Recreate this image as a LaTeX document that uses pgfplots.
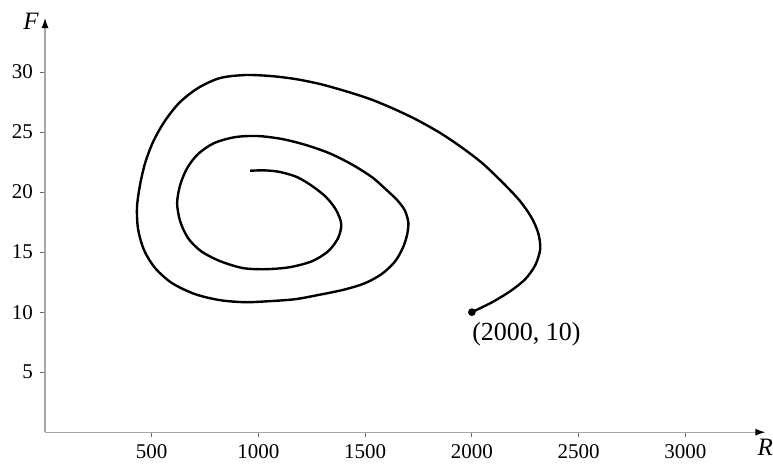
\documentclass[border=0pt]{standalone}
\usepackage{fontspec}
\setmainfont{Liberation Serif}
\usepackage{pgfplots}
\pgfplotsset{compat=1.18}
\usetikzlibrary{arrows.meta}

\begin{document}
\begin{tikzpicture}
\begin{axis}[
    scale only axis,
    width=360pt, height=207pt,
    axis lines=left,
    axis line style={gray!70, line width=0.6pt, -{Latex[black, length=5pt, width=3.5pt]}},
    xmin=0, xmax=3375,
    ymin=0, ymax=34.5,
    xtick={500,1000,...,3000},
    ytick={5,10,...,30},
    tick align=outside,
    major tick length=2.5pt,
    tick style={gray!80!black, line width=0.5pt},
    tick label style={font=\fontsize{10.5}{12}\selectfont},
    /pgf/number format/assume math mode=true,
    /pgf/number format/1000 sep={},
    clip=false,
  ]
  % trajectory
  \addplot[black, line width=1.2pt, smooth] coordinates {
    (2000,10.0) (2095,10.83) (2180,11.75) (2250,12.75) (2297,13.92)
    (2320,15.25) (2311,16.58) (2278,17.92) (2222,19.33) (2142,20.83)
    (2048,22.42) (1950,23.75) (1852,24.92) (1744,26.0) (1636,26.92)
    (1523,27.75) (1406,28.42) (1289,29.0) (1172,29.42) (1055,29.67)
    (938,29.75) (820,29.5) (717,28.67) (628,27.42) (558,25.83)
    (506,24.17) (469,22.42) (445,20.58) (431,18.75) (436,16.92)
    (464,15.17) (516,13.67) (595,12.42) (703,11.5) (820,11.0)
    (938,10.83) (1055,10.92) (1172,11.08) (1289,11.46) (1402,11.88)
    (1500,12.42) (1580,13.21) (1641,14.25) (1678,15.42) (1697,16.5)
    (1702,17.5) (1685,18.5) (1650,19.33) (1603,20.13) (1533,21.23)
    (1439,22.29) (1336,23.21) (1223,23.92) (1111,24.42) (998,24.67)
    (891,24.58) (792,24.08) (717,23.17) (666,22.0) (633,20.58)
    (619,19.08) (633,17.58) (670,16.17) (731,15.08) (820,14.25)
    (928,13.67) (1036,13.58) (1148,13.75) (1252,14.25) (1327,15.08)
    (1373,16.17) (1388,17.33) (1364,18.5) (1317,19.58) (1252,20.5)
    (1181,21.25) (1102,21.67) (1031,21.81) (961,21.78)
  };
  \addplot[only marks, mark=*, mark size=1.7pt, black] coordinates {(2000,10)};
  \node[anchor=north west, inner sep=0pt, yshift=-5pt, font=\fontsize{13}{15}\selectfont]
    at (axis cs:2000,10) {(2000, 10)};
  \node[anchor=north, inner sep=0pt, yshift=-3pt, font=\fontsize{12.5}{14}\selectfont\itshape]
    at (axis cs:3375,0) {R};
  \node[anchor=east, inner sep=0pt, xshift=-3pt, yshift=-1.5pt, font=\fontsize{12.5}{14}\selectfont\itshape]
    at (axis cs:0,34.5) {F};
  % room round the picture as in the reference
  \path (rel axis cs:0,1) ++(-22.5pt,9pt);
\end{axis}
\end{tikzpicture}
\end{document}
